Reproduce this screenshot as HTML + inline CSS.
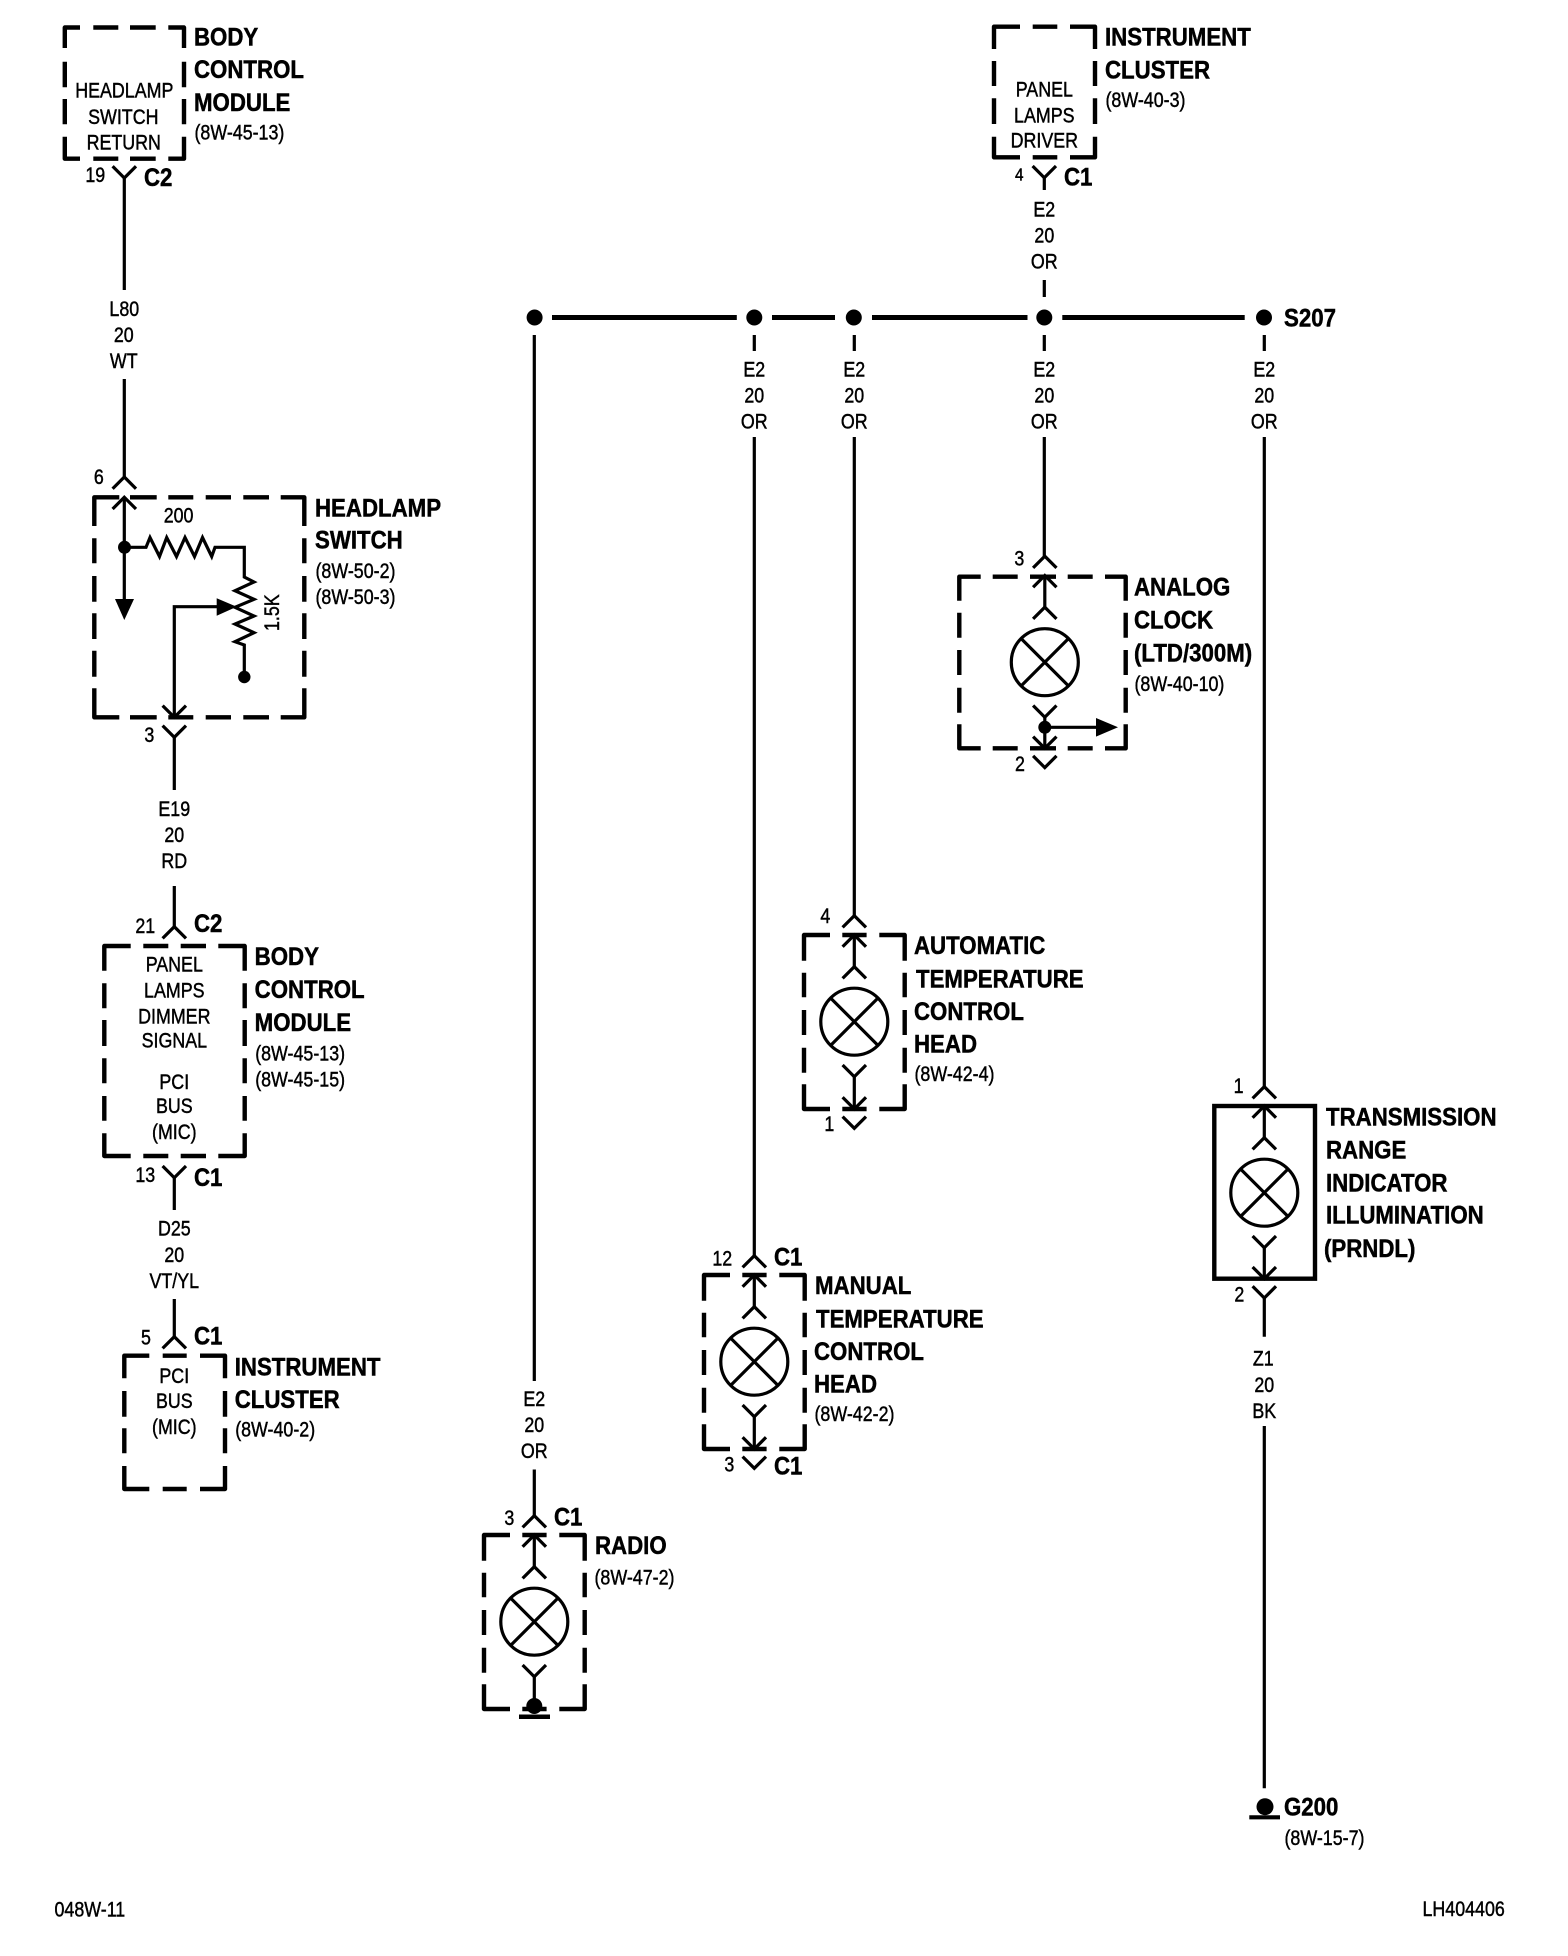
<!DOCTYPE html>
<html>
<head>
<meta charset="utf-8">
<title>Panel lamps wiring diagram</title>
<style>
html,body{margin:0;padding:0;background:#fff;width:1568px;height:1956px;overflow:hidden}
svg{display:block}
text{font-family:"Liberation Sans",Arial,sans-serif;fill:#000}
.b{font-size:25px;font-weight:bold;stroke:#000;stroke-width:.5px;transform-box:fill-box;transform-origin:0 50%;transform:translate(-1px,-1px) scaleX(.89)}
.n{font-size:21px;stroke:#000;stroke-width:.45px;transform-box:fill-box;transform-origin:0 50%;transform:translate(-.5px,-.5px) scaleX(.85)}
.c{font-size:21px;stroke:#000;stroke-width:.45px;text-anchor:middle;transform-box:fill-box;transform-origin:50% 50%;transform:translate(-.7px,-1px) scaleX(.85)}
.w{fill:none;stroke:#000;stroke-width:3.2}
.f{fill:none;stroke:#000;stroke-width:4.4;stroke-linejoin:round}
</style>
</head>
<body>
<svg xmlns="http://www.w3.org/2000/svg" width="1568" height="1956" viewBox="0 0 1568 1956">
<rect width="1568" height="1956" fill="#fff"/>
<defs>
<path id="vup" class="w" d="M-11.7 11.7L0 0L11.7 11.7"/>
<path id="vdn" class="w" d="M-11.7 -11.7L0 0L11.7 -11.7"/>
<path id="frame" class="f" d="M-50.3 25.7V0H-24.3M-12 0H12.3M25 0H50.4V25.7M50.4 37.7V62.3M50.4 75V100M50.4 112.7V137.7M50.4 149.3V174H25M12.3 174H-12M-24.3 174H-50.3V149.3M-50.3 137.7V112.7M-50.3 100V75M-50.3 62.3V37.7"/>
<g id="lamp">
<use href="#vup" y="-19.3"/>
<use href="#vup" y="0"/>
<path class="w" d="M0 0V31.7"/>
<use href="#vup" y="31.7"/>
<circle class="w" cy="86.7" r="33.5"/>
<path class="w" d="M-23.5 63.2L23.5 110.2M23.5 63.2L-23.5 110.2"/>
<use href="#vdn" y="141.7"/>
</g>
<g id="bot">
<path class="w" d="M0 -32V0"/>
<use href="#vdn" y="0"/>
<use href="#vdn" y="19.3"/>
</g>
</defs>

<!-- Wires -->
<path class="w" d="M124.3 178V290M124.3 379V477M174.3 737V790M174.3 886V926.7M174.3 1178V1210M174.3 1299V1336.7
M1044.3 178V190M1044.3 280V297M534.3 335V1381M534.3 1469.5V1516
M754.3 335V351M754.3 437V1256M854.3 335V351M854.3 437V916
M1044.3 335V351M1044.3 437V556M1264.3 335V351M1264.3 437V1086.7
M1264.3 1298V1336.7M1264.3 1426V1788.3"/>

<!-- Bus -->
<path d="M552 317.5H736.8M772 317.5H835M872 317.5H1027.5M1062.3 317.5H1244.7" stroke="#000" stroke-width="5" fill="none"/>
<circle cx="534.6" cy="317.5" r="8"/><circle cx="754.3" cy="317.5" r="8"/><circle cx="853.8" cy="317.5" r="8"/><circle cx="1044.3" cy="317.5" r="8"/><circle cx="1264" cy="317.5" r="8"/>
<text class="b" x="1285" y="327.3">S207</text>

<!-- Body control module 1 -->
<path class="f" d="M64.8 48V27.5H80M93.3 27.5H118.3M130 27.5H155.7M168.3 27.5H184V48M184 61.7V87.3M184 99V124.3M184 136.7V158.7H168.3M155.7 158.7H130M118.3 158.7H93.3M80 158.7H64.8V136.7M64.8 124.3V99M64.8 87.3V61.7"/>
<text class="c" x="125" y="98.5">HEADLAMP</text>
<text class="c" x="124" y="125">SWITCH</text>
<text class="c" x="124.5" y="150.7">RETURN</text>
<text class="b" x="195" y="46.7">BODY</text>
<text class="b" x="195" y="79">CONTROL</text>
<text class="b" x="195" y="112">MODULE</text>
<text class="n" x="195" y="140">(8W-45-13)</text>
<use href="#vdn" x="124.3" y="178"/>
<text class="c" x="96" y="183">19</text>
<text class="b" x="145" y="187">C2</text>
<text class="c" x="125" y="317">L80</text>
<text class="c" x="124.5" y="343">20</text>
<text class="c" x="124.5" y="369">WT</text>

<!-- Headlamp switch -->
<use href="#vup" x="124.3" y="477"/>
<text class="c" x="99.5" y="485">6</text>
<path class="f" d="M94.3 526V497.3H119.3M130 497.3H156.7M168.3 497.3H193.3M205.7 497.3H231M243.3 497.3H269M280.7 497.3H304.3V526M304.3 538.3V563.3M304.3 576V601.7M304.3 613.3V639M304.3 650.7V676.7M304.3 688.3V717.3H280.7M269 717.3H243.3M231 717.3H205.7M193.3 717.3H168.3M156.7 717.3H130M119.3 717.3H94.3V688.3M94.3 676.7V650.7M94.3 639V613.3M94.3 601.7V576M94.3 563.3V538.3"/>
<use href="#vup" x="124.3" y="497.3"/>
<path class="w" d="M124.3 497.3V601"/>
<path d="M115 599H134L124.3 620Z"/>
<circle cx="124.5" cy="547.3" r="6.5"/>
<path class="w" d="M124.5 547.3H146L150 537.5L159.5 556.5L166.7 537.5L176.5 556.5L185 537.5L194.5 556.5L202.5 537.5L211.7 556.5L215 547.3H244.3V577L254 582L235 590.7L254 599.3L235 607.3L254 616L235 624L254 632.7L235 641.7L244.3 645V677"/>
<circle cx="244.3" cy="677" r="6.2"/>
<path class="w" d="M174.3 717.3V606.7H217"/>
<path d="M216.7 598.3V615.7L236.7 606.7Z"/>
<use href="#vdn" x="174.3" y="717.3"/>
<use href="#vdn" x="174.3" y="737.3"/>
<text class="c" x="179.3" y="523.3">200</text>
<g transform="translate(280,612) rotate(-90)"><text class="c" x="0" y="0">1.5K</text></g>
<text class="b" x="316" y="517.3">HEADLAMP</text>
<text class="b" x="316" y="549.3">SWITCH</text>
<text class="n" x="316" y="578.3">(8W-50-2)</text>
<text class="n" x="316" y="604.3">(8W-50-3)</text>
<text class="c" x="150" y="743">3</text>
<text class="c" x="175" y="817">E19</text>
<text class="c" x="175" y="843">20</text>
<text class="c" x="175" y="869">RD</text>

<!-- Body control module 2 -->
<use href="#vup" x="174.3" y="926.7"/>
<text class="c" x="146" y="934">21</text>
<text class="b" x="195" y="933">C2</text>
<path class="f" d="M104.3 970.7V946H130.7M143.3 946H168.3M180.7 946H206M218.3 946H244.7V970.7M244.7 983.3V1008.3M244.7 1020V1046M244.7 1058.3V1083.3M244.7 1096V1120.7M244.7 1133.3V1156H218.3M206 1156H180.7M168.3 1156H143.3M130.7 1156H104.3V1133.3M104.3 1120.7V1096M104.3 1083.3V1058.3M104.3 1046V1020M104.3 1008.3V983.3"/>
<text class="c" x="175" y="972.3">PANEL</text>
<text class="c" x="175" y="998.3">LAMPS</text>
<text class="c" x="175" y="1024.3">DIMMER</text>
<text class="c" x="175" y="1048.7">SIGNAL</text>
<text class="c" x="175" y="1090">PCI</text>
<text class="c" x="175" y="1114">BUS</text>
<text class="c" x="175" y="1140">(MIC)</text>
<text class="b" x="255.7" y="966">BODY</text>
<text class="b" x="255.7" y="999">CONTROL</text>
<text class="b" x="255.7" y="1032">MODULE</text>
<text class="n" x="255.7" y="1061">(8W-45-13)</text>
<text class="n" x="255.7" y="1087">(8W-45-15)</text>
<use href="#vdn" x="174.3" y="1177.7"/>
<text class="c" x="146" y="1183">13</text>
<text class="b" x="195" y="1187">C1</text>
<text class="c" x="175" y="1236.7">D25</text>
<text class="c" x="175" y="1263">20</text>
<text class="c" x="175" y="1289">VT/YL</text>

<!-- Instrument cluster (lower) -->
<use href="#vup" x="174.3" y="1336.7"/>
<text class="c" x="146.7" y="1345.7">5</text>
<text class="b" x="195" y="1345.7">C1</text>
<path class="f" d="M124.3 1378.3V1355.7H149.3M162.7 1355.7H186.7M200 1355.7H225V1378.3M225 1391V1416.7M225 1428.3V1453.3M225 1466V1489H200M186.7 1489H162.7M149.3 1489H124.3V1466M124.3 1453.3V1428.3M124.3 1416.7V1391"/>
<text class="c" x="175" y="1384">PCI</text>
<text class="c" x="175" y="1409">BUS</text>
<text class="c" x="175" y="1435">(MIC)</text>
<text class="b" x="235.7" y="1376.7">INSTRUMENT</text>
<text class="b" x="235.7" y="1409">CLUSTER</text>
<text class="n" x="235.7" y="1437">(8W-40-2)</text>

<!-- Instrument cluster (upper) -->
<path class="f" d="M994 49V26.7H1020M1032.7 26.7H1057.3M1070 26.7H1095V49M1095 61V86M1095 98.3V124M1095 136.7V157.3H1070M1057.3 157.3H1032.7M1020 157.3H994V136.7M994 124V98.3M994 86V61"/>
<text class="c" x="1045" y="97.3">PANEL</text>
<text class="c" x="1045" y="123.3">LAMPS</text>
<text class="c" x="1045" y="148.3">DRIVER</text>
<text class="b" x="1106" y="46.7">INSTRUMENT</text>
<text class="b" x="1106" y="79.3">CLUSTER</text>
<text class="n" x="1106" y="107.3">(8W-40-3)</text>
<use href="#vdn" x="1044.3" y="177.7"/>
<text class="c" x="1020" y="181.7" style="font-size:18px">4</text>
<text class="b" x="1065" y="186.7">C1</text>
<text class="c" x="1045" y="217.3">E2</text>
<text class="c" x="1045" y="243.3">20</text>
<text class="c" x="1045" y="269.3">OR</text>

<!-- Wire labels below bus -->
<text class="c" x="755" y="377.3">E2</text><text class="c" x="755" y="403.3">20</text><text class="c" x="755" y="429.3">OR</text>
<text class="c" x="855" y="377.3">E2</text><text class="c" x="855" y="403.3">20</text><text class="c" x="855" y="429.3">OR</text>
<text class="c" x="1045" y="377.3">E2</text><text class="c" x="1045" y="403.3">20</text><text class="c" x="1045" y="429.3">OR</text>
<text class="c" x="1265" y="377.3">E2</text><text class="c" x="1265" y="403.3">20</text><text class="c" x="1265" y="429.3">OR</text>
<text class="c" x="535" y="1407">E2</text><text class="c" x="535" y="1433">20</text><text class="c" x="535" y="1459">OR</text>

<!-- Analog clock -->
<use href="#lamp" x="1044.8" y="575.5"/>
<use href="#bot" x="1044.8" y="748.3"/>
<path class="f" d="M959.3 600.7V576.7H980.7M992.7 576.7H1017.7M1030 576.7H1056M1067.7 576.7H1092.7M1105 576.7H1125.7V600.7M1125.7 612.7V637.7M1125.7 650V675M1125.7 687.7V712.7M1125.7 724.3V748.3H1105M1092.7 748.3H1067.7M1056 748.3H1030M1017.7 748.3H992.7M980.7 748.3H959.3V724.3M959.3 712.7V687.7M959.3 675V650M959.3 637.7V612.7"/>
<circle cx="1044.8" cy="727.3" r="6.5"/>
<path class="w" d="M1044.8 727.3H1097"/>
<path d="M1096 718V736.6L1118 727.3Z"/>
<text class="c" x="1020" y="566.7">3</text>
<text class="c" x="1020.7" y="772">2</text>
<text class="b" x="1135" y="596.7">ANALOG</text>
<text class="b" x="1135" y="629.3">CLOCK</text>
<text class="b" x="1135" y="662.3">(LTD/300M)</text>
<text class="n" x="1135" y="691.7">(8W-40-10)</text>

<!-- Automatic temperature -->
<use href="#lamp" x="854.3" y="935"/>
<use href="#frame" x="854.3" y="935"/>
<use href="#bot" x="854.3" y="1109"/>
<text class="c" x="826" y="924">4</text>
<text class="c" x="830" y="1132">1</text>
<text class="b" x="915" y="955">AUTOMATIC</text>
<text class="b" x="917" y="988.3">TEMPERATURE</text>
<text class="b" x="915" y="1021">CONTROL</text>
<text class="b" x="915" y="1053.3">HEAD</text>
<text class="n" x="915" y="1081.7">(8W-42-4)</text>

<!-- Manual temperature -->
<use href="#lamp" x="754.3" y="1275"/>
<use href="#frame" x="754.3" y="1275"/>
<use href="#bot" x="754.3" y="1449"/>
<text class="c" x="723" y="1266.7">12</text>
<text class="b" x="775" y="1266.7">C1</text>
<text class="c" x="730" y="1472.3">3</text>
<text class="b" x="775" y="1475.7">C1</text>
<text class="b" x="816" y="1295">MANUAL</text>
<text class="b" x="817" y="1328.3">TEMPERATURE</text>
<text class="b" x="815" y="1361">CONTROL</text>
<text class="b" x="815" y="1393.3">HEAD</text>
<text class="n" x="815" y="1421.7">(8W-42-2)</text>

<!-- Radio -->
<use href="#lamp" x="534.3" y="1535"/>
<use href="#frame" x="534.3" y="1535"/>
<path class="w" d="M534.3 1676.7V1700"/>
<circle cx="534.3" cy="1706" r="8"/>
<path d="M519 1716.7H550" stroke="#000" stroke-width="4.5"/>
<text class="c" x="510" y="1526">3</text>
<text class="b" x="555" y="1526.7">C1</text>
<text class="b" x="596" y="1555">RADIO</text>
<text class="n" x="595" y="1585">(8W-47-2)</text>

<!-- Transmission range indicator -->
<use href="#lamp" x="1264.3" y="1106"/>
<use href="#bot" x="1264.3" y="1278.7"/>
<rect x="1214.3" y="1106" width="100.7" height="172.7" fill="none" stroke="#000" stroke-width="4.4"/>
<text class="c" x="1239.3" y="1094">1</text>
<text class="c" x="1240" y="1302.7">2</text>
<text class="b" x="1327" y="1126.7">TRANSMISSION</text>
<text class="b" x="1327" y="1159.3">RANGE</text>
<text class="b" x="1327" y="1192.3">INDICATOR</text>
<text class="b" x="1327" y="1224.3">ILLUMINATION</text>
<text class="b" x="1325" y="1258">(PRNDL)</text>
<text class="c" x="1264" y="1366.7">Z1</text>
<text class="c" x="1265" y="1393">20</text>
<text class="c" x="1265" y="1419">BK</text>

<!-- Ground G200 -->
<circle cx="1265" cy="1806.7" r="8.5"/>
<path d="M1249.3 1817.3H1280" stroke="#000" stroke-width="4.2"/>
<text class="b" x="1285" y="1816.7">G200</text>
<text class="n" x="1285" y="1845.7">(8W-15-7)</text>

<!-- Footer -->
<text class="n" x="55" y="1917">048W-11</text>
<text class="n" x="1423" y="1916.7">LH404406</text>
</svg>
</body>
</html>
